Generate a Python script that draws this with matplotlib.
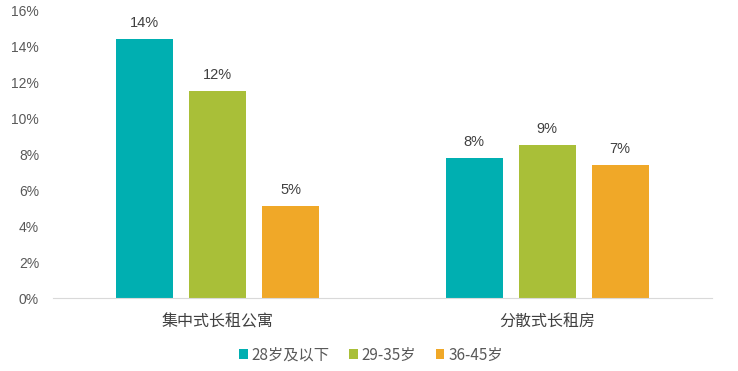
import matplotlib
matplotlib.use("Agg")
import matplotlib.pyplot as plt
import numpy as np
from matplotlib.ticker import FuncFormatter

plt.rcParams['font.family'] = ['Liberation Sans', 'Noto Sans CJK SC', 'DejaVu Sans']

categories = ["集中式长租公寓", "分散式长租房"]
series_names = ["28岁及以下", "29-35岁", "36-45岁"]
values = {
    "28岁及以下": [14.4, 7.8],
    "29-35岁": [11.5, 8.5],
    "36-45岁": [5.1, 7.4],
}
labels = {
    "28岁及以下": ["14%", "8%"],
    "29-35岁": ["12%", "9%"],
    "36-45岁": ["5%", "7%"],
}
colors = ["#00AFB1", "#A9BF38", "#F0A828"]
yticks = [0, 2, 4, 6, 8, 10, 12, 14, 16]

fig = plt.figure(figsize=(7.38, 3.71), dpi=100)
ax = fig.add_axes([53/738, (371-298)/371, (712-53)/738, (298-10)/371])

x = np.arange(len(categories))
width = 0.173
step = 0.2215
for i, name in enumerate(series_names):
    xs = x + (i - 1) * step
    bars = ax.bar(xs, values[name], width=width, color=colors[i], label=name)
    for b, lab in zip(bars, labels[name]):
        ax.text(b.get_x() + b.get_width()/2, b.get_height() + 0.5, lab,
                ha='center', va='bottom', fontsize=10.5, color='#404040')

ax.set_xlim(-0.5, 1.5)
ax.set_ylim(0, 16)
ax.set_yticks(yticks)
ax.yaxis.set_major_formatter(FuncFormatter(lambda v, p: f"{int(v)}%"))
ax.set_xticks(x)
ax.set_xticklabels(categories, fontsize=11.5, color='#404040',
                   family=['Noto Sans CJK SC', 'DejaVu Sans'])
ax.tick_params(axis='y', length=0, labelsize=10, labelcolor='#595959', pad=10)
ax.tick_params(axis='x', length=0, pad=11)
for s in ['top', 'right', 'left']:
    ax.spines[s].set_visible(False)
ax.spines['bottom'].set_color('#D9D9D9')

leg = fig.legend(loc='center', bbox_to_anchor=(371/738, 1 - 355/371), ncol=3,
                 frameon=False, handlelength=0.55, handleheight=0.55,
                 handletextpad=0.25, columnspacing=1.3,
                 prop={'family': ['Noto Sans CJK SC', 'DejaVu Sans'], 'size': 11})
for t in leg.get_texts():
    t.set_color('#595959')

fig.savefig("out.png", dpi=100)
